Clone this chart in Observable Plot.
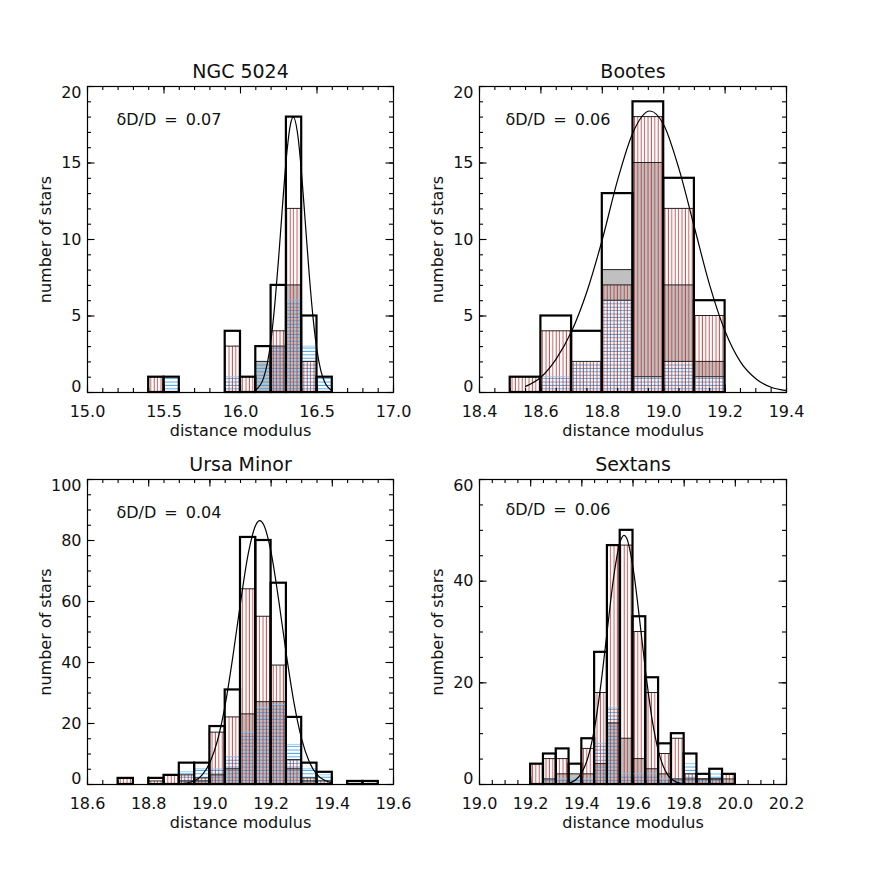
<!DOCTYPE html>
<html><head><meta charset="utf-8">
<script src="https://cdn.jsdelivr.net/npm/d3@7"></script>
<script src="https://cdn.jsdelivr.net/npm/@observablehq/plot@0.6"></script>
<style>
body{margin:0;background:#fff;}
#wrap{position:relative;width:872px;height:872px;overflow:hidden;}
.cell{position:absolute;width:436px;height:436px;}
</style></head><body>
<svg width="0" height="0" style="position:absolute">
<defs>
<pattern id="redHatch" patternUnits="userSpaceOnUse" width="3.4" height="10">
<line x1="1.2" y1="0" x2="1.2" y2="10" stroke="#b83030" stroke-width="1" stroke-opacity="0.8"/>
</pattern>
<pattern id="blueHatch" patternUnits="userSpaceOnUse" width="10" height="3.4">
<line x1="0" y1="1.2" x2="10" y2="1.2" stroke="#3a9ee0" stroke-width="1" stroke-opacity="0.9"/>
</pattern>
</defs>
</svg>
<div id="wrap"></div>
<script>
// ---------- NGC 5024 ----------
const ngcBins  = [15.4, 15.5, 15.9, 16.0, 16.1, 16.2, 16.3, 16.4, 16.5];
const ngcTotal = [1, 1, 4, 1, 3, 7, 18, 5, 1];
const ngcRed   = [1, 0, 3, 1, 0, 4, 12, 2, 0];
const ngcGray  = [0, 0, 0, 0, 2, 3, 7, 0, 0];
const ngcBlue  = [0, 1, 1, 0, 2, 3, 6, 3, 1];
const ngcFitX  = [16.10, 16.15, 16.175, 16.20, 16.225, 16.25, 16.275, 16.30, 16.325, 16.345, 16.375, 16.40, 16.425, 16.45, 16.475, 16.50, 16.525, 16.55, 16.60];
const ngcFitY  = [0.17, 0.92, 1.88, 3.48, 5.84, 8.89, 12.27, 15.37, 17.45, 18.0, 16.78, 14.22, 10.92, 7.61, 4.81, 2.75, 1.43, 0.68, 0.11];
const ngcXTicks = [15.0, 15.5, 16.0, 16.5, 17.0];
const ngcYTicks = [0, 5, 10, 15, 20];

// ---------- Bootes ----------
const booBins   = [18.5, 18.6, 18.7, 18.8, 18.9, 19.0, 19.1];
const booTotal  = [1, 5, 4, 13, 19, 14, 6];
const booRed    = [1, 4, 2, 7, 18, 12, 5];
const booGrayLo = [0, 0, 0, 6, 1, 2, 1];
const booGray   = [0, 0, 0, 8, 15, 7, 2];
const booBlue   = [0, 1, 2, 6, 1, 2, 1];
const booFitX   = [18.55, 18.60, 18.65, 18.70, 18.75, 18.80, 18.85, 18.90, 18.955, 19.00, 19.05, 19.10, 19.15, 19.20, 19.25, 19.30, 19.35, 19.40];
const booFitY   = [0.4, 1.0, 2.2, 4.0, 6.6, 10.0, 13.9, 17.0, 18.4, 17.5, 14.6, 10.8, 7.0, 4.0, 2.0, 0.9, 0.34, 0.12];
const booXTicks = [18.4, 18.6, 18.8, 19.0, 19.2, 19.4];
const booYTicks = [0, 5, 10, 15, 20];

// ---------- Ursa Minor ----------
const umiBins  = [18.70, 18.75, 18.80, 18.85, 18.90, 18.95, 19.00, 19.05, 19.10, 19.15, 19.20, 19.25, 19.30, 19.35, 19.40, 19.45, 19.50];
const umiTotal = [2, 0, 2, 3, 7, 7, 19, 31, 81, 80, 66, 22, 7, 4, 0, 1, 1];
const umiRed   = [2, 0, 1, 3, 3, 2, 17, 22, 64, 55, 39, 8, 2, 1, 0, 0, 0];
const umiGray  = [0, 0, 0, 0, 1, 1, 3, 5, 23, 27, 27, 5, 1, 0, 0, 0, 0];
const umiBlue  = [0, 0, 0, 0, 4, 5, 5, 9, 17, 25, 26, 13, 5, 3, 0, 0, 0];
const umiFitX  = [18.90, 18.95, 18.975, 19.00, 19.025, 19.05, 19.075, 19.10, 19.125, 19.15, 19.163, 19.175, 19.20, 19.225, 19.25, 19.275, 19.30, 19.325, 19.35, 19.40];
const umiFitY  = [0.13, 1.23, 3.15, 7.2, 14.5, 26.1, 41.9, 59.6, 75.5, 85.1, 86.5, 85.3, 76.1, 60.3, 42.5, 26.7, 14.9, 7.4, 3.25, 0.45];
const umiXTicks = [18.6, 18.8, 19.0, 19.2, 19.4, 19.6];
const umiYTicks = [0, 20, 40, 60, 80, 100];

// ---------- Sextans ----------
const sexBins  = [19.20, 19.25, 19.30, 19.35, 19.40, 19.45, 19.50, 19.55, 19.60, 19.65, 19.70, 19.75, 19.80, 19.85, 19.90, 19.95];
const sexTotal = [4, 6, 7, 4, 9, 26, 47, 50, 33, 21, 8, 10, 6, 2, 3, 2];
const sexRed   = [4, 5, 5, 0, 7, 18, 47, 47, 30, 18, 6, 9, 2, 1, 1, 2];
const sexGray  = [0, 1, 2, 2, 2, 4, 12, 9, 5, 3, 2, 1, 1, 1, 1, 1];
const sexBlue  = [0, 1, 1, 1, 1, 8, 15, 2, 2, 2, 1, 1, 4, 1, 2, 0];
const sexFitX  = [19.25, 19.30, 19.35, 19.375, 19.40, 19.425, 19.45, 19.475, 19.50, 19.525, 19.55, 19.565, 19.575, 19.60, 19.625, 19.65, 19.675, 19.70, 19.725, 19.75, 19.80, 19.85];
const sexFitY  = [0.0, 0.02, 0.28, 0.88, 2.37, 5.5, 11.2, 19.9, 30.6, 41.0, 47.8, 49.0, 48.5, 42.7, 32.8, 21.9, 12.7, 6.43, 2.83, 1.08, 0.1, 0.0];
const sexXTicks = [19.0, 19.2, 19.4, 19.6, 19.8, 20.0, 20.2];
const sexYTicks = [0, 20, 40, 60];

const panels = [
  {title: "NGC 5024", note: "\u03B4D/D\u2002=\u20020.07", left: 0, top: 0, ml: 87, mr: 43, mt: 86, mb: 44,
   noteDx: 29, noteDy: 27, binW: 0.1, bins: ngcBins, total: ngcTotal, red: ngcRed, gray: ngcGray, blue: ngcBlue,
   fitX: ngcFitX, fitY: ngcFitY, xTicks: ngcXTicks, yTicks: ngcYTicks, xDomain: [15, 17], yDomain: [0, 20], xMinor: 0.1, yMinor: 1},
  {title: "Bootes", note: "\u03B4D/D\u2002=\u20020.06", left: 436, top: 0, ml: 43, mr: 86, mt: 86, mb: 44,
   noteDx: 26, noteDy: 27, binW: 0.1, bins: booBins, total: booTotal, red: booRed, gray: booGray, grayLo: booGrayLo, blue: booBlue,
   fitX: booFitX, fitY: booFitY, xTicks: booXTicks, yTicks: booYTicks, xDomain: [18.4, 19.4], yDomain: [0, 20], xMinor: 0.05, yMinor: 1},
  {title: "Ursa Minor", note: "\u03B4D/D\u2002=\u20020.04", left: 0, top: 436, ml: 87, mr: 43, mt: 43, mb: 88,
   noteDx: 29, noteDy: 27, binW: 0.05, bins: umiBins, total: umiTotal, red: umiRed, gray: umiGray, blue: umiBlue,
   fitX: umiFitX, fitY: umiFitY, xTicks: umiXTicks, yTicks: umiYTicks, xDomain: [18.6, 19.6], yDomain: [0, 100], xMinor: 0.05, yMinor: 5},
  {title: "Sextans", note: "\u03B4D/D\u2002=\u20020.06", left: 436, top: 436, ml: 43, mr: 86, mt: 43, mb: 88,
   noteDx: 26, noteDy: 24, binW: 0.05, bins: sexBins, total: sexTotal, red: sexRed, gray: sexGray, blue: sexBlue,
   fitX: sexFitX, fitY: sexFitY, xTicks: sexXTicks, yTicks: sexYTicks, xDomain: [19.0, 20.2], yDomain: [0, 60], xMinor: 0.05, yMinor: 5}
];

function stepRange(lo, hi, step) {
  const a = Math.round(lo / step), b = Math.round(hi / step);
  return d3.range(a, b + 1).map(i => +(i * step).toFixed(4));
}

function makePanel(p) {
  const W = 436, H = 436;
  const fw = W - p.ml - p.mr, fh = H - p.mt - p.mb;
  const rows = p.bins.map((b, i) => ({
    x1: b, x2: +(b + p.binW).toFixed(4),
    total: p.total[i], red: p.red[i], gray: p.gray[i],
    grayLo: p.grayLo ? p.grayLo[i] : 0, blue: p.blue[i]
  }));
  const fit = p.fitX.map((x, i) => ({x, y: p.fitY[i]}));
  const grayRows = rows.filter(d => d.gray > d.grayLo);
  const redRows = rows.filter(d => d.red > 0);
  const blueRows = rows.filter(d => d.blue > 0);
  const totRows = rows.filter(d => d.total > 0);
  const xMinor = stepRange(p.xDomain[0], p.xDomain[1], p.xMinor);
  const yMinor = stepRange(p.yDomain[0], p.yDomain[1], p.yMinor);
  const maj = 7.5, mino = 4;
  const tk = {stroke: "black", strokeWidth: 1.1};
  return Plot.plot({
    width: W, height: H,
    marginLeft: p.ml, marginRight: p.mr, marginTop: p.mt, marginBottom: p.mb,
    x: {domain: p.xDomain},
    y: {domain: p.yDomain},
    style: {fontFamily: "DejaVu Sans", fontSize: "16px", color: "#111", background: "transparent", overflow: "visible"},
    marks: [
      Plot.rectY(grayRows, {x1: "x1", x2: "x2", y1: "grayLo", y2: "gray", fill: "#c0c0c0"}),
      Plot.rectY(blueRows, {x1: "x1", x2: "x2", y1: 0, y2: "blue", fill: "url(#blueHatch)"}),
      Plot.rectY(redRows, {x1: "x1", x2: "x2", y1: 0, y2: "red", fill: "url(#redHatch)"}),
      Plot.rectY(blueRows, {x1: "x1", x2: "x2", y1: 0, y2: "blue", fill: "none", stroke: "#8ccaf0", strokeWidth: 0.8}),
      Plot.rectY(grayRows, {x1: "x1", x2: "x2", y1: "grayLo", y2: "gray", fill: "none", stroke: "#222", strokeWidth: 1}),
      Plot.rectY(redRows, {x1: "x1", x2: "x2", y1: 0, y2: "red", fill: "none", stroke: "#222", strokeWidth: 1}),
      Plot.rectY(totRows, {x1: "x1", x2: "x2", y1: 0, y2: "total", fill: "none", stroke: "black", strokeWidth: 2.2}),
      Plot.line(fit, {x: "x", y: "y", curve: "monotone-x", stroke: "black", strokeWidth: 1.2}),
      Plot.frame({stroke: "black", strokeWidth: 1.2}),
      // inward ticks on all four sides
      Plot.tickX(xMinor, {x: d => d, insetTop: fh - mino, ...tk}),
      Plot.tickX(xMinor, {x: d => d, insetBottom: fh - mino, ...tk}),
      Plot.tickX(p.xTicks, {x: d => d, insetTop: fh - maj, ...tk}),
      Plot.tickX(p.xTicks, {x: d => d, insetBottom: fh - maj, ...tk}),
      Plot.tickY(yMinor, {y: d => d, insetRight: fw - mino, ...tk}),
      Plot.tickY(yMinor, {y: d => d, insetLeft: fw - mino, ...tk}),
      Plot.tickY(p.yTicks, {y: d => d, insetRight: fw - maj, ...tk}),
      Plot.tickY(p.yTicks, {y: d => d, insetLeft: fw - maj, ...tk}),
      // tick labels
      Plot.axisX(p.xTicks, {tickSize: 0, tickPadding: 13, tickFormat: d => d.toFixed(1), label: null}),
      Plot.axisY(p.yTicks.slice(1, -1), {tickSize: 0, tickPadding: 6, tickFormat: d => String(d), label: null}),
      Plot.axisY([p.yTicks[0]], {tickSize: 0, tickPadding: 6, tickFormat: d => String(d), label: null, dy: -6}),
      Plot.axisY([p.yTicks[p.yTicks.length - 1]], {tickSize: 0, tickPadding: 6, tickFormat: d => String(d), label: null, dy: 6}),
      // texts
      Plot.text([p.title], {text: d => d, frameAnchor: "top", dy: -9, lineAnchor: "bottom", textAnchor: "middle", fontSize: 19}),
      Plot.text(["distance modulus"], {text: d => d, frameAnchor: "bottom", dy: 43, lineAnchor: "bottom", textAnchor: "middle", fontSize: 16}),
      Plot.text(["number of stars"], {text: d => d, frameAnchor: "left", dx: -42, rotate: -90, textAnchor: "middle", lineAnchor: "middle", fontSize: 16}),
      Plot.text([p.note], {text: d => d, frameAnchor: "top-left", dx: p.noteDx, dy: p.noteDy, lineAnchor: "top", textAnchor: "start", fontSize: 16})
    ]
  });
}

const wrap = document.getElementById("wrap");
for (const p of panels) {
  const cell = document.createElement("div");
  cell.className = "cell";
  cell.style.left = p.left + "px";
  cell.style.top = p.top + "px";
  cell.appendChild(makePanel(p));
  wrap.appendChild(cell);
}
</script>
</body></html>
